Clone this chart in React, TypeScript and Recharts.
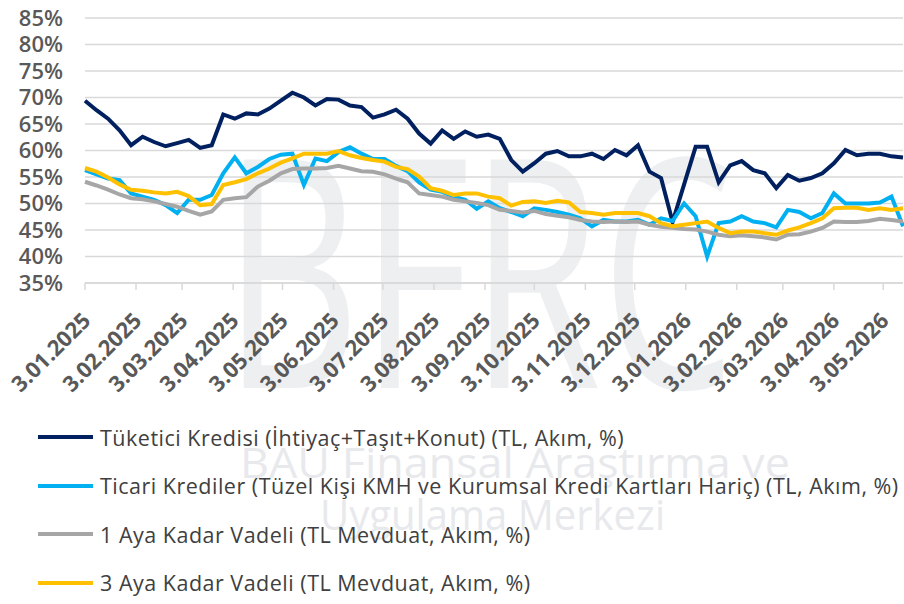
import { LineChart, Line, XAxis, YAxis, CartesianGrid } from "recharts";

// weekly observations (Fridays)
const dates = [
    "2025-01-03", "2025-01-10", "2025-01-17", "2025-01-24", "2025-01-31",
    "2025-02-07", "2025-02-14", "2025-02-21", "2025-02-28",
    "2025-03-07", "2025-03-14", "2025-03-21", "2025-03-28",
    "2025-04-04", "2025-04-11", "2025-04-18", "2025-04-25",
    "2025-05-02", "2025-05-09", "2025-05-16", "2025-05-23", "2025-05-30",
    "2025-06-06", "2025-06-13", "2025-06-20", "2025-06-27",
    "2025-07-04", "2025-07-11", "2025-07-18", "2025-07-25",
    "2025-08-01", "2025-08-08", "2025-08-15", "2025-08-22", "2025-08-29",
    "2025-09-05", "2025-09-12", "2025-09-19", "2025-09-26",
    "2025-10-03", "2025-10-10", "2025-10-17", "2025-10-24", "2025-10-31",
    "2025-11-07", "2025-11-14", "2025-11-21", "2025-11-28",
    "2025-12-05", "2025-12-12", "2025-12-19", "2025-12-26",
    "2026-01-02", "2026-01-09", "2026-01-16", "2026-01-23", "2026-01-30",
    "2026-02-06", "2026-02-13", "2026-02-20", "2026-02-27",
    "2026-03-06", "2026-03-13", "2026-03-20", "2026-03-27",
    "2026-04-03", "2026-04-10", "2026-04-17", "2026-04-24",
    "2026-05-01", "2026-05-08", "2026-05-15",
];

const tuketici = [
    69.4, 67.6, 66.0, 63.8, 61.0, 62.6, 61.6, 60.8, 61.4, 62.0, 60.5, 61.0, 66.8,
    66.0, 67.0, 66.8, 67.9, 69.4, 70.9, 70.0, 68.5, 69.7, 69.6, 68.5, 68.2, 66.2,
    66.8, 67.7, 66.0, 63.2, 61.3, 63.8, 62.2, 63.6, 62.6, 63.0, 62.2, 58.2, 56.0,
    57.6, 59.4, 59.9, 58.9, 58.9, 59.4, 58.4, 60.1, 59.1, 61.0, 56.0, 54.8,
    46.5, 53.6, 60.7, 60.7, 54.0, 57.2, 58.0, 56.3, 55.7, 52.9, 55.4, 54.3,
    54.8, 55.7, 57.6, 60.1, 59.1, 59.4, 59.4, 58.9, 58.7,
];

const ticari = [
    56.3, 55.5, 54.7, 54.4, 51.9, 51.3, 50.7, 49.7, 48.2, 50.7, 50.7, 51.6, 55.7,
    58.7, 55.7, 56.9, 58.4, 59.2, 59.4, 53.5, 58.5, 58.0, 59.7, 60.6, 59.4, 58.4,
    58.4, 57.1, 56.1, 54.0, 52.6, 52.2, 51.3, 50.7, 49.0, 50.4, 49.1, 48.4, 47.6,
    49.1, 48.8, 48.4, 47.9, 47.2, 45.7, 46.9, 46.6, 46.6, 46.9, 46.0, 47.2,
    46.7, 50.0, 47.6, 40.0, 46.3, 46.6, 47.6, 46.6, 46.3, 45.5, 48.8, 48.4,
    47.2, 48.2, 51.9, 50.0, 50.0, 50.0, 50.2, 51.3, 45.7,
];

const vadeli1 = [
    54.1, 53.4, 52.6, 51.7, 51.0, 50.8, 50.4, 49.9, 49.4, 48.6, 47.9, 48.5, 50.7,
    51.0, 51.2, 53.2, 54.3, 55.7, 56.5, 56.6, 56.6, 56.7, 57.1, 56.6, 56.1, 56.0,
    55.5, 54.7, 54.0, 51.9, 51.6, 51.3, 50.7, 50.4, 50.1, 49.7, 48.8, 48.6, 48.3,
    48.6, 48.0, 47.7, 47.4, 46.9, 46.6, 46.5, 46.6, 46.5, 46.6, 46.0, 45.6,
    45.4, 45.2, 45.1, 44.7, 44.1, 43.8, 44.0, 43.8, 43.6, 43.2, 44.1, 44.2,
    44.7, 45.4, 46.6, 46.5, 46.5, 46.7, 47.1, 46.9, 46.6,
];

const vadeli3 = [
    56.7, 56.0, 54.9, 53.6, 52.6, 52.4, 52.1, 51.9, 52.2, 51.4, 49.7, 49.9, 53.5,
    54.0, 54.6, 55.7, 56.6, 57.7, 58.5, 59.4, 59.4, 59.4, 59.9, 59.1, 58.6, 58.2,
    57.9, 56.9, 56.5, 55.1, 52.9, 52.4, 51.6, 51.9, 51.9, 51.3, 51.0, 49.6, 50.3,
    50.4, 50.1, 50.5, 50.2, 48.4, 48.2, 47.9, 48.2, 48.2, 48.2, 47.6, 46.3,
    45.7, 46.0, 46.3, 46.6, 45.4, 44.4, 44.7, 44.7, 44.4, 44.1, 44.9, 45.5,
    46.3, 47.2, 49.1, 49.2, 49.2, 48.8, 49.1, 48.8, 49.1,
];

const tickDates = [
    "2025-01-03", "2025-02-03", "2025-03-03", "2025-04-03", "2025-05-03", "2025-06-03",
    "2025-07-03", "2025-08-03", "2025-09-03", "2025-10-03", "2025-11-03", "2025-12-03",
    "2026-01-03", "2026-02-03", "2026-03-03", "2026-04-03", "2026-05-03",
];

const yTicks = [35, 40, 45, 50, 55, 60, 65, 70, 75, 80, 85];

const seriesNames = [
    "Tüketici Kredisi (İhtiyaç+Taşıt+Konut) (TL, Akım, %)",
    "Ticari Krediler (Tüzel Kişi KMH ve Kurumsal Kredi Kartları Hariç) (TL, Akım, %)",
    "1 Aya Kadar Vadeli (TL Mevduat, Akım, %)",
    "3 Aya Kadar Vadeli (TL Mevduat, Akım, %)",
];
const seriesKeys = ["tuketici", "ticari", "vadeli1", "vadeli3"];
const seriesColors = ["#002060", "#00B0F0", "#A6A6A6", "#FFC000"];

const FONT = '"Open Sans", sans-serif';
const DAY = 86400000;
const dayOf = (s: string) => Math.round((Date.parse(s) - Date.parse(dates[0])) / DAY);

const data = dates.map((d, i) => ({
    day: dayOf(d),
    tuketici: tuketici[i],
    ticari: ticari[i],
    vadeli1: vadeli1[i],
    vadeli3: vadeli3[i],
}));

const tickDays = tickDates.map(dayOf);
const labelFor = (day: number) => {
    const s = tickDates[tickDays.indexOf(day)];
    if (!s) return "";
    const [y, m, d] = s.split("-");
    return `${Number(d)}.${m}.${y}`;
};

const XTick = (props: any) => {
    const { x, y, payload } = props;
    const ax = x + 7;
    const ay = y + 30;
    return (
        <text
            x={ax}
            y={ay}
            transform={`rotate(-45 ${ax} ${ay})`}
            textAnchor="end"
            fill="#595959"
            fontSize={22}
            fontWeight={700}
            fontFamily={FONT}
        >
            {labelFor(payload.value)}
        </text>
    );
};

export default function App() {
    return (
        <div
            style={{
                position: "absolute",
                left: 0,
                top: 0,
                width: 904,
                height: 604,
                background: "#fff",
                overflow: "hidden",
                fontFamily: FONT,
            }}
        >
            {/* faint watermark */}
            <svg width={904} height={604} style={{ position: "absolute", left: 0, top: 0 }}>
                <text x={223} y={388} fontSize={320} fontFamily={FONT} fill="#eeeff1" textLength={512} lengthAdjust="spacingAndGlyphs">
                    BFRC
                </text>
                <text x={240} y={478} fontSize={42} fontFamily={FONT} fill="#e8e9ec" textLength={550} lengthAdjust="spacingAndGlyphs">
                    BAU Finansal Araştırma ve
                </text>
                <text x={320} y={530} fontSize={42} fontFamily={FONT} fill="#e8e9ec" textLength={345} lengthAdjust="spacingAndGlyphs">
                    Uygulama Merkezi
                </text>
            </svg>

            <div style={{ position: "absolute", left: 0, top: 0 }}>
                <LineChart width={904} height={400} data={data} margin={{ top: 18, right: 1, left: 0, bottom: 0 }}>
                    <CartesianGrid vertical={false} stroke="#d9d9d9" strokeWidth={1.5} />
                    <XAxis
                        dataKey="day"
                        type="number"
                        domain={[0, dayOf("2026-05-15")]}
                        ticks={tickDays}
                        interval={0}
                        height={117}
                        tick={<XTick />}
                        tickSize={7}
                        axisLine={{ stroke: "#d9d9d9", strokeWidth: 1.5 }}
                        tickLine={{ stroke: "#d9d9d9", strokeWidth: 1.5 }}
                    />
                    <YAxis
                        domain={[35, 85]}
                        ticks={yTicks}
                        interval={0}
                        width={85}
                        axisLine={false}
                        tickLine={false}
                        tickMargin={16}
                        tickFormatter={(v: number) => `${v}%`}
                        tick={{ fontSize: 22, fill: "#595959", fontFamily: FONT, fontWeight: 600 }}
                    />
                    {seriesKeys.map((k, i) => (
                        <Line
                            key={k}
                            type="linear"
                            dataKey={k}
                            name={seriesNames[i]}
                            stroke={seriesColors[i]}
                            strokeWidth={4}
                            dot={false}
                            isAnimationActive={false}
                        />
                    ))}
                </LineChart>
            </div>

            <div style={{ position: "absolute", left: 38, top: 413 }}>
                {seriesNames.map((n, i) => (
                    <div key={n} style={{ display: "flex", alignItems: "center", height: 48.5 }}>
                        <div style={{ width: 55, height: 4, background: seriesColors[i], marginRight: 7 }} />
                        <span style={{ fontSize: 21.5, letterSpacing: 0.5, color: "#404040", whiteSpace: "nowrap" }}>{n}</span>
                    </div>
                ))}
            </div>
        </div>
    );
}
